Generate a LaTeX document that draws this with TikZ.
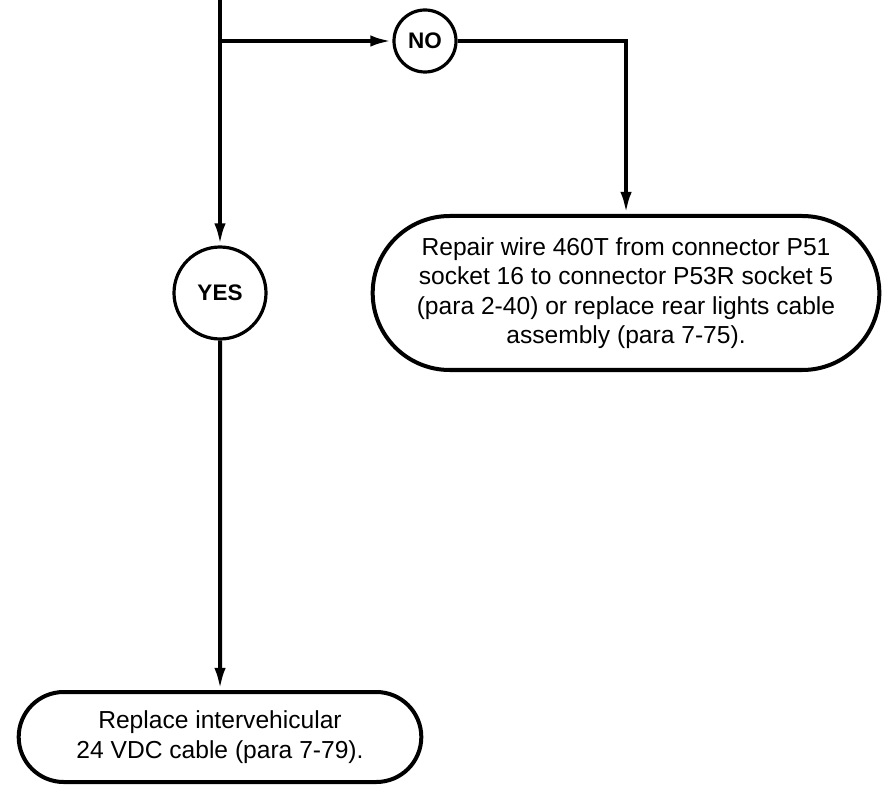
\documentclass[tikz,border=0pt]{standalone}
\usepackage{fontspec}
\setmainfont{Liberation Sans}
\usetikzlibrary{arrows.meta,shapes.misc}
\begin{document}
\begin{tikzpicture}[>={Latex[length=0.55cm,width=0.28cm]},
  flow/.style={line width=0.1cm},
  answer/.style={draw,circle,line width=0.08cm,inner sep=0pt,font=\fontsize{16}{19}\selectfont\bfseries},
  action/.style={draw,rounded rectangle,line width=0.1cm,align=center,font=\fontsize{17.5}{21}\selectfont}]
  \useasboundingbox (0,0) rectangle (22.35,19.65);
  \coordinate (start) at (5.5,19.65);
  \coordinate (split) at (5.5,18.625);
  \node[answer,minimum size=1.55cm] (no) at (10.625,18.625) {NO};
  \node[answer,minimum size=2.3cm] (yes) at (5.5,12.325) {YES};
  \node[action,minimum width=12.9cm,minimum height=3.85cm] (repair) at (15.65,12.325)
    {Repair wire 460T from connector P51\\ socket 16 to connector P53R socket 5\\ (para 2-40) or replace rear lights cable\\ assembly (para 7-75).};
  \node[action,minimum width=10.3cm,minimum height=2.25cm] (replace) at (5.5,1.225)
    {Replace intervehicular\\ 24 VDC cable (para 7-79).};
  \draw[flow,->] (start) -- (yes);
  \draw[flow,->] (split) -- (no);
  \draw[flow,->] (no) -| (repair);
  \draw[flow,->] (yes) -- (replace);
\end{tikzpicture}
\end{document}
